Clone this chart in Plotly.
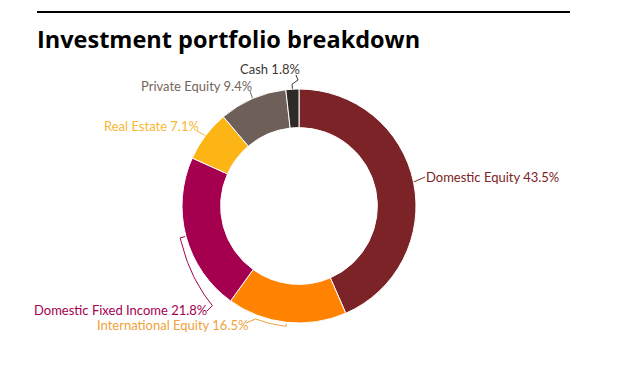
import math
import plotly.graph_objects as go

# ---- data ----
categories = ["Domestic Equity", "International Equity", "Domestic Fixed Income",
              "Real Estate", "Private Equity", "Cash"]
values = [43.5, 16.5, 21.8, 7.1, 9.4, 1.8]
slice_colors = ["#7B2326", "#FF8300", "#A5004F", "#FDB515", "#6E6058", "#2E2A28"]
label_colors = ["#7B2326", "#EFA23C", "#A5004F", "#F7B733", "#75665C", "#3A3633"]

# ---- layout config (pixels) ----
W, H = 621, 377
CX, CY, R = 299, 206, 117
HOLE = 0.67
# label text anchor point, anchor side
label_pos = {
    "Domestic Equity": (426, 177, "left"),
    "International Equity": (247, 325, "right"),
    "Domestic Fixed Income": (206, 310, "right"),
    "Real Estate": (198, 126, "right"),
    "Private Equity": (251, 86, "right"),
    "Cash": (299, 69, "right"),
}
TEXT_PAD = 2.5

total = sum(values)
cum = 0
mids = []
for v in values:
    a0 = cum / total * 360
    cum += v
    a1 = cum / total * 360
    mids.append((a0 + a1) / 2)


def pt(theta, r):
    t = math.radians(theta)
    return CX + r * math.sin(t), CY - r * math.cos(t)


fig = go.Figure()

fig.add_trace(go.Pie(
    labels=categories, values=values, sort=False, direction="clockwise",
    rotation=0, hole=HOLE, textinfo="none", hoverinfo="label+percent",
    marker=dict(colors=slice_colors, line=dict(color="white", width=1)),
    domain=dict(x=[(CX - R) / W, (CX + R) / W], y=[1 - (CY + R) / H, 1 - (CY - R) / H]),
    showlegend=False,
))

# leader lines
for name, mid, col in zip(categories, mids, label_colors):
    lx, ly, side = label_pos[name]
    if name == "Domestic Fixed Income":
        pts = [pt(mid, R + 1), pt(mid, R + 6)]
        n = 20
        for i in range(1, n + 1):
            th = mid + (221 - mid) * i / n
            r = R + 6 + (15 - 6) * (i / n) ** 1.5
            pts.append(pt(th, r))
        pts.append((lx + 1, ly + 1))
    elif name == "International Equity":
        pts = [pt(mid, R + 1.5), pt(mid, R + 4)]
        n = 10
        for i in range(1, n + 1):
            th = mid + (201 - mid) * i / n
            pts.append(pt(th, R + 4))
        pts.append((lx - 1, ly - 2))
    elif name == "Cash":
        p0 = pt(mid, R)
        pts = [p0, pt(mid, R + 5), (lx - 1, ly + 11), (lx - 3, ly + 6)]
    elif name == "Domestic Equity":
        pts = [pt(mid, R), (lx - 1, ly)]
    else:
        pts = [pt(mid, R), (lx - 1, ly + 5)]
    fig.add_trace(go.Scatter(
        x=[p[0] for p in pts], y=[p[1] for p in pts], mode="lines",
        line=dict(color=col, width=1), hoverinfo="skip", showlegend=False,
    ))

# labels
for name, v, col in zip(categories, values, label_colors):
    lx, ly, side = label_pos[name]
    tx = lx - TEXT_PAD if side == "left" else lx + TEXT_PAD
    fig.add_annotation(
        x=tx, y=ly, xref="x", yref="y", text=f"{name} {v}%", showarrow=False,
        xanchor=side, yanchor="middle",
        font=dict(family="Lato", size=13, color=col),
    )

# top rule
fig.add_shape(type="line", x0=37, x1=570, y0=12, y1=12, xref="x", yref="y",
              line=dict(color="black", width=2))

fig.update_layout(
    width=W, height=H, margin=dict(l=0, r=0, t=0, b=0),
    paper_bgcolor="white", plot_bgcolor="rgba(0,0,0,0)",
    title=dict(text="<b>Investment portfolio breakdown</b>", x=37 / W, xanchor="left",
               y=1 - 40 / H, yanchor="middle", yref="paper",
               font=dict(family="Open Sans", size=23.5, color="black")),
    xaxis=dict(range=[0, W], visible=False, fixedrange=True, domain=[0, 1]),
    yaxis=dict(range=[H, 0], visible=False, fixedrange=True, domain=[0, 1]),
)

fig.write_html("out.html")
